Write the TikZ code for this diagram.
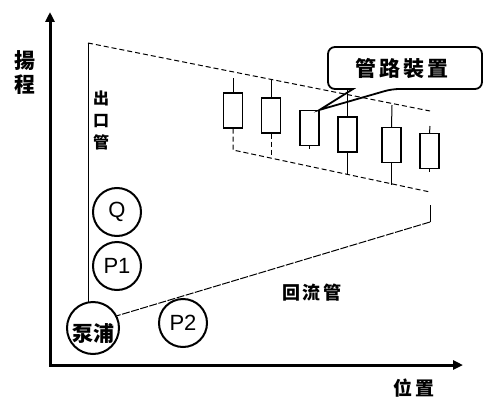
\documentclass[tikz,border=0pt]{standalone}
\usepackage{fontspec}
\setmainfont{Liberation Sans}
\newfontfamily\cjk{Noto Sans CJK TC}
\usetikzlibrary{arrows.meta}
\begin{document}
\begin{tikzpicture}[x=1pt,y=-1pt,
 axis/.style={line width=3pt,{Triangle[length=10pt,width=9pt]}-{Triangle[length=10pt,width=9pt]}},
 pipe/.style={line width=1pt},
 dashpipe/.style={line width=1pt,dash pattern=on 5pt off 3pt},
 retpipe/.style={line width=1pt,dash pattern=on 8pt off 1.5pt},
 valve/.style={draw,line width=1.3pt,minimum width=19pt,minimum height=35pt,inner sep=0pt},
 ball/.style={circle,draw,line width=2pt,minimum size=48pt,inner sep=0pt,font=\fontsize{22}{22}\selectfont},
 cn/.style={font=\cjk\bfseries\fontsize{16}{22}\selectfont,inner sep=0pt,align=center}
]
\useasboundingbox (0,0) rectangle (497,404);
% axes
\coordinate (O) at (50,365);
\coordinate (ytip) at (50,12);
\coordinate (xtip) at (463,365);
\draw[axis] (ytip) -- (O) -- (xtip);
\node[cn,font=\cjk\bfseries\fontsize{21}{24}\selectfont] (ylab) at (25,73) {揚\\程};
\node[cn,font=\cjk\bfseries\fontsize{19}{20}\selectfont] (xlab) at (414,388) {位\hspace{4pt}置};
% circles
\node[ball] (Q) at (117,212) {Q};
\node[ball] (P1) at (117,266) {P1};
\node[ball] (P2) at (183,323) {P2};
\node[ball,minimum size=52pt] (pump) at (93,328) {};
\node[cn,font=\cjk\bfseries\fontsize{21}{21}\selectfont] (pumplab) at (93,333) {泵浦};
% valves
\node[valve] (b1) at (233,110.5) {};
\node[valve] (b2) at (271,115.5) {};
\node[valve] (b3) at (309.5,128) {};
\node[valve] (b4) at (347.5,134.5) {};
\node[valve] (b5) at (391.5,145) {};
\node[valve] (b6) at (429.5,151) {};
% outlet pipe
\coordinate (o1) at (88,43);
\coordinate (t6) at (430,111);
\draw[pipe] (o1) -- (88,302.5);
\draw[dashpipe] (o1) -- (t6);
\node[cn] (outlab) at (101,120) {出\\口\\管};
% top stems
\draw[pipe] (b1.north) -- (233,78);
\draw[pipe] (b2.north) -- (271,80);
\draw[pipe] (b5.north) -- (392,105);
\draw[pipe] (b6.north) -- (430,126);
% lower dashed
\coordinate (l1) at (233,150);
\coordinate (l6) at (430,192);
\draw[dashpipe] (b1.south) -- (l1) -- (l6);
\draw[dashpipe] (b2.south) -- (271,157);
\draw[pipe] (b3.south) -- ++(0,3);
\draw[pipe] (b4.south) -- (347.5,175);
\draw[pipe] (b5.south) -- (391.5,185);
\draw[pipe] (b6.south) -- ++(0,3);
% return pipe
\coordinate (r1) at (430,205);
\coordinate (r2) at (430,222);
\draw[pipe] (r1) -- (r2);
\draw[retpipe] (r2) -- (pump.27);
\node[cn,font=\cjk\bfseries\fontsize{18}{18}\selectfont] (retlab) at (312,293) {回\hspace{3pt}流\hspace{3pt}管};
% callout
\draw[line width=1.8pt,rounded corners=7pt] (353,89) -- (328,89) -- (328,47) -- (482,47) -- (482,89) -- (392,89) [sharp corners] -- (b3.north east) -- cycle;
\draw[pipe] (b4.north) -- (347.5,89);
\node[cn,font=\cjk\bfseries\fontsize{21}{21}\selectfont] (calltext) at (402,69) {管\hspace{3pt}路\hspace{3pt}裝\hspace{3pt}置};
\end{tikzpicture}
\end{document}
